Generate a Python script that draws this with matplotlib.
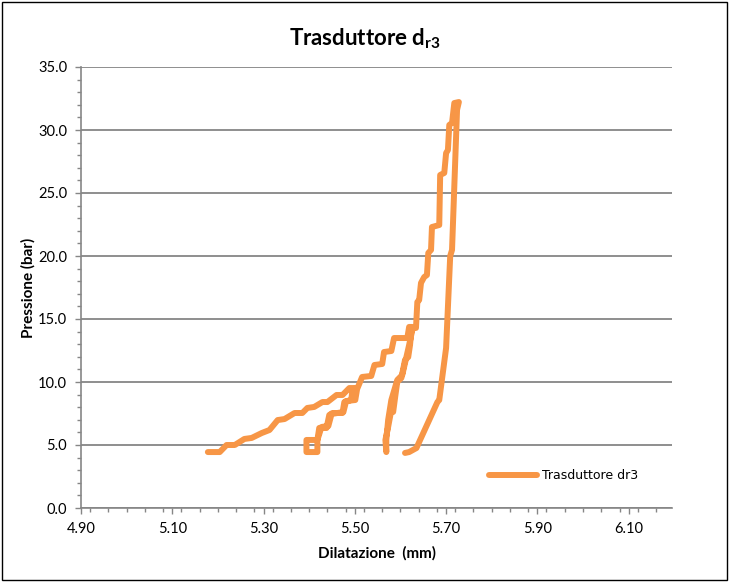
import matplotlib
matplotlib.use("Agg")
import matplotlib.pyplot as plt
from matplotlib.ticker import MultipleLocator, FormatStrFormatter
from matplotlib.patches import Rectangle
import numpy as np

plt.rcParams['font.family'] = ['Lato', 'DejaVu Sans']
plt.rcParams['mathtext.fontset'] = 'custom'
plt.rcParams['mathtext.bf'] = 'Lato:bold'
plt.rcParams['mathtext.rm'] = 'Lato'

# Dilatazione (mm) and Pressione (bar) in acquisition order
dilatazione = [
    5.178, 5.204, 5.219, 5.237, 5.258, 5.274, 5.296, 5.313, 5.331, 5.346,
    5.368, 5.385, 5.396, 5.411, 5.429, 5.440, 5.460, 5.473, 5.488, 5.503,
    5.495, 5.492, 5.477, 5.473, 5.451, 5.444, 5.438, 5.422, 5.418, 5.418,
    5.394, 5.394, 5.418,
    5.427, 5.442, 5.449, 5.475, 5.481, 5.501, 5.505,
    5.516, 5.536, 5.543, 5.560, 5.564, 5.580, 5.586, 5.615, 5.619, 5.626,
    5.626, 5.619, 5.613, 5.604, 5.593, 5.580, 5.573, 5.569, 5.569,
    5.567, 5.573, 5.580, 5.584, 5.589, 5.593, 5.602, 5.610, 5.617, 5.621,
    5.624, 5.630, 5.634,
    5.637, 5.641, 5.645, 5.652, 5.658, 5.661, 5.667, 5.669, 5.685, 5.687,
    5.696, 5.700, 5.704, 5.707, 5.713, 5.718, 5.728,
    5.724, 5.713, 5.709, 5.700, 5.685, 5.681, 5.635, 5.619, 5.610,
]
pressione = [
    4.44, 4.44, 5.00, 5.00, 5.48, 5.56, 5.95, 6.19, 6.98, 7.06,
    7.54, 7.54, 7.94, 8.02, 8.41, 8.41, 8.97, 8.97, 9.52, 9.52,
    9.37, 8.57, 8.41, 7.54, 7.54, 7.38, 6.35, 6.35, 5.40, 4.44,
    4.44, 5.40, 5.40,
    6.43, 6.51, 7.46, 7.62, 8.49, 8.57, 9.44,
    10.40, 10.48, 11.35, 11.43, 12.38, 12.46, 13.49, 13.49, 14.37, 14.37,
    14.13, 12.94, 11.98, 10.56, 10.16, 8.57, 6.98, 5.40, 4.44,
    5.40, 6.43, 7.78, 7.62, 8.97, 10.00, 10.32, 11.75, 11.98, 12.94,
    14.13, 14.29, 14.29,
    16.35, 16.51, 17.86, 18.33, 18.49, 20.24, 20.48, 22.30, 22.46, 26.43,
    26.59, 28.17, 28.41, 30.40, 30.56, 32.14, 32.22,
    31.60, 20.48, 20.00, 12.70, 8.57, 8.41, 4.76, 4.44, 4.37,
]

x_ticks = [4.90, 5.10, 5.30, 5.50, 5.70, 5.90, 6.10]
y_ticks = [0.0, 5.0, 10.0, 15.0, 20.0, 25.0, 30.0, 35.0]

orange = '#F79646'
grid_gray = '#868686'

fig = plt.figure(figsize=(7.29, 5.82), dpi=100)
ax = fig.add_axes([81/729, 1-508/582, (672-81)/729, (508-67)/582])

ax.plot(dilatazione, pressione, color=orange, lw=4.3, solid_joinstyle='round',
        solid_capstyle='round', label='Trasduttore dr3', zorder=3)

ax.set_xlim(4.9, 6.195)
ax.set_ylim(0, 35)
ax.set_xticks(x_ticks)
ax.set_yticks(y_ticks)
ax.xaxis.set_minor_locator(MultipleLocator(0.04))
ax.yaxis.set_minor_locator(MultipleLocator(1.0))
ax.xaxis.set_major_formatter(FormatStrFormatter('%.2f'))
ax.yaxis.set_major_formatter(FormatStrFormatter('%.1f'))

for s in ['top', 'right']:
    ax.spines[s].set_visible(False)
for s in ['left', 'bottom']:
    ax.spines[s].set_color(grid_gray)
    ax.spines[s].set_linewidth(1.2)

ax.yaxis.grid(True, which='major', color=grid_gray, lw=1.3)
ax.set_axisbelow(True)
ax.tick_params(which='both', direction='out', color=grid_gray, width=1.0)
ax.tick_params(which='major', length=4, labelsize=10.5, pad=6, labelcolor='#000000')
ax.tick_params(which='minor', length=3)

ax.set_xlabel('Dilatazione  (mm)', fontsize=11, fontweight='bold', labelpad=7)
ax.set_ylabel('Pressione (bar)', fontsize=11, fontweight='bold', labelpad=2)

fig.text(365/729, 1-39/582, r'Trasduttore d$_{\mathbf{r3}}$', ha='center', va='center',
         fontsize=16, fontweight='bold')

leg = ax.legend(loc='upper left', bbox_to_anchor=((478-81)/(672-81), (508-458)/(508-67)),
                frameon=False, handlelength=3.8, handletextpad=0.4,
                prop={'family': 'DejaVu Sans', 'size': 9})

fig.patches.append(Rectangle((0.003, 0.003), 0.994, 0.994, transform=fig.transFigure,
                             fill=False, edgecolor='black', lw=1.0))

fig.savefig('out.png', dpi=100)
